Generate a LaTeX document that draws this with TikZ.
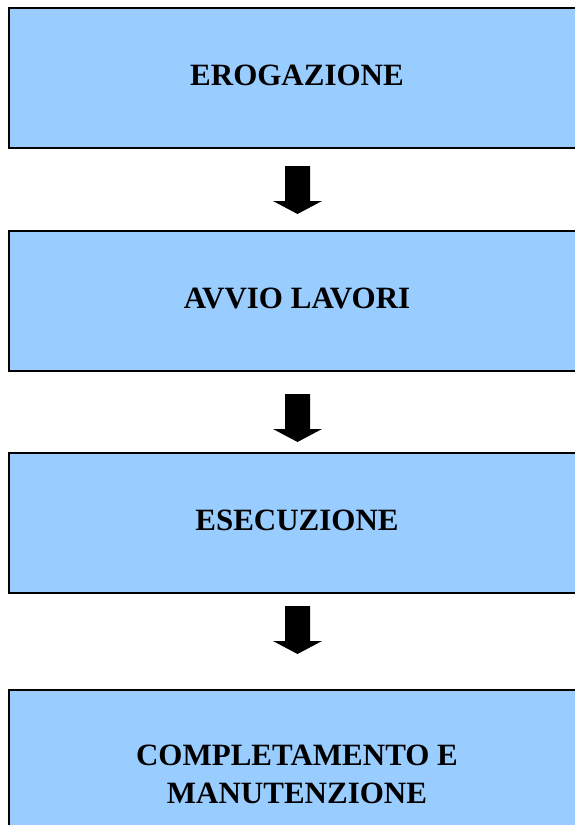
\documentclass[tikz,border=0pt]{standalone}
\usepackage{fontspec}
\setmainfont{Liberation Serif}
\usetikzlibrary{calc}
\definecolor{boxblue}{HTML}{99CCFF}
\tikzset{
  stagebox/.style={draw=black, line width=2pt, fill=boxblue, rectangle,
    minimum width=576pt, minimum height=140pt, inner sep=0pt, align=center,
    font=\bfseries\fontsize{31}{38}\selectfont},
  raisedtext/.style={text depth=6pt},
  blockarrow/.style={fill=black},
}
\newcommand\downblock[1]{%
  \fill[blockarrow] ($(#1)+(-12.5,0)$) -- ++(25,0) -- ++(0,35) -- ++(12,0)
    -- ($(#1)+(0,48)$) -- ($(#1)+(-24.5,35)$) -- ++(12,0) -- cycle;}
\begin{document}
\begin{tikzpicture}[x=1pt,y=-1pt]
\useasboundingbox (0,0) rectangle (575,825);
\clip (0,0) rectangle (575,825);
\fill[white] (0,0) rectangle (575,825);
\node[stagebox, raisedtext] (b1) at (297,78) {EROGAZIONE};
\node[stagebox, raisedtext] (b2) at (297,301) {AVVIO LAVORI};
\node[stagebox, raisedtext] (b3) at (297,523) {ESECUZIONE};
\node[stagebox, minimum height=168pt] (b4) at (297,774) {COMPLETAMENTO E\\MANUTENZIONE};
\coordinate (a1) at ($(b1.south)+(0.5,17)$);
\coordinate (a2) at ($(b2.south)+(0.5,22)$);
\coordinate (a3) at ($(b3.south)+(0.5,12)$);
\downblock{a1}
\downblock{a2}
\downblock{a3}
\end{tikzpicture}
\end{document}
